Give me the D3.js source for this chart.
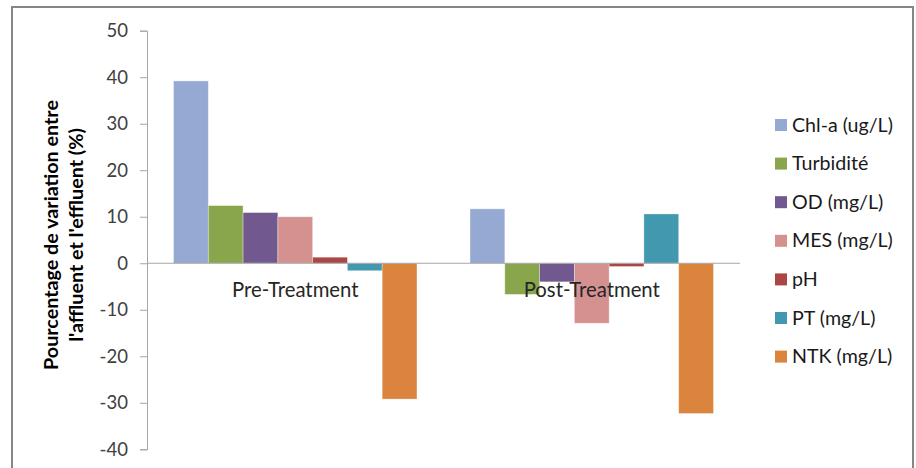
<!DOCTYPE html>
<html><head><meta charset="utf-8">
<script src="https://cdn.jsdelivr.net/npm/d3@7"></script>
<style>body{margin:0;background:#fff;}svg{display:block;}</style>
</head><body><svg id="c" width="916" height="468"></svg>
<script>
const categories = ["Pre-Treatment", "Post-Treatment"];
const seriesNames = ["Chl-a (ug/L)", "Turbidité", "OD (mg/L)", "MES (mg/L)", "pH", "PT (mg/L)", "NTK (mg/L)"];
const seriesColors = ["#95A9D2", "#8AA64C", "#71588F", "#D49190", "#AA4643", "#4198AF", "#DB843D"];
const preValues = [39.2, 12.4, 10.9, 10.0, 1.3, -1.6, -29.2];
const postValues = [11.7, -6.7, -4.0, -12.9, -0.7, 10.6, -32.3];
const yTicks = [50, 40, 30, 20, 10, 0, -10, -20, -30, -40];
const yTitle = ["Pourcentage de variation entre", "l'affluent et l'effluent (%)"];

const values = [preValues, postValues];
const svg = d3.select("#c");
const font = "Lato, 'Open Sans', sans-serif";

// font size that makes a sample string reach a given width
function fitSize(sample, weight, target) {
  const t = svg.append("text").attr("font-family", font).attr("font-weight", weight)
    .attr("font-size", 100).text(sample);
  const w = t.node().getComputedTextLength();
  t.remove();
  return 100 * target / w;
}
const tickSize = fitSize("-40", "normal", 28.4);
const catSize = fitSize("Pre-Treatment", "normal", 126.7);
const legSize = fitSize("Chl-a (ug/L)", "normal", 101);
const titleSize = fitSize(yTitle[0], "bold", 270);

// outer frame
svg.append("rect").attr("x", 12).attr("y", 7).attr("width", 901).attr("height", 480)
  .attr("fill", "#fff").attr("stroke", "#868686").attr("stroke-width", 2);

const y = d3.scaleLinear().domain([-40, 50]).range([449.3, 30.7]);
const x0 = d3.scaleBand().domain(categories).range([147, 740]);
const gap = x0.bandwidth() * 0.179;
const x1 = d3.scaleBand().domain(seriesNames).range([gap / 2, x0.bandwidth() - gap / 2]);

// y axis
const yAxis = svg.append("g").attr("transform", "translate(147,0)")
  .call(d3.axisLeft(y).tickValues(yTicks).tickSize(7).tickPadding(12)
    .tickFormat(d => String(d)));
yAxis.select(".domain").attr("stroke", "#a6a6a6");
yAxis.selectAll(".tick line").attr("stroke", "#a6a6a6");
yAxis.selectAll(".tick text").attr("font-family", font).attr("font-size", tickSize).attr("fill", "#404040");

// bars
categories.forEach((cat, ci) => {
  seriesNames.forEach((s, si) => {
    const v = values[ci][si];
    svg.append("rect")
      .attr("x", x0(cat) + x1(s))
      .attr("y", y(Math.max(0, v)))
      .attr("width", x1.bandwidth())
      .attr("height", Math.abs(y(v) - y(0)))
      .attr("fill", seriesColors[si])
      .attr("stroke", "#ffffff").attr("stroke-opacity", 0.4).attr("stroke-width", 0.8);
  });
});

// zero line
svg.append("line").attr("x1", 147).attr("x2", 740).attr("y1", y(0)).attr("y2", y(0))
  .attr("stroke", "#a6a6a6").attr("stroke-width", 1.2);

// category labels
svg.selectAll(".cat").data(categories).enter().append("text")
  .attr("x", d => x0(d) + x0.bandwidth() / 2).attr("y", 297)
  .attr("text-anchor", "middle").attr("font-family", font).attr("font-size", catSize)
  .attr("fill", "#262626").text(d => d);

// y title
const tg = svg.append("g").attr("transform", "translate(64,235) rotate(-90)");
yTitle.forEach((t, i) => {
  tg.append("text").attr("x", 0).attr("y", -6 + i * 25).attr("text-anchor", "middle")
    .attr("font-family", font).attr("font-weight", "bold").attr("font-size", titleSize)
    .attr("fill", "#000").text(t);
});

// legend
const lg = svg.append("g");
seriesNames.forEach((s, i) => {
  const cy = 125 + i * 38.6;
  lg.append("rect").attr("x", 775).attr("y", cy - 6).attr("width", 12).attr("height", 12)
    .attr("fill", seriesColors[i]);
  lg.append("text").attr("x", 792).attr("y", cy + 6.5).attr("font-family", font)
    .attr("font-size", legSize).attr("fill", "#1a1a1a").text(s);
});
</script></body></html>
